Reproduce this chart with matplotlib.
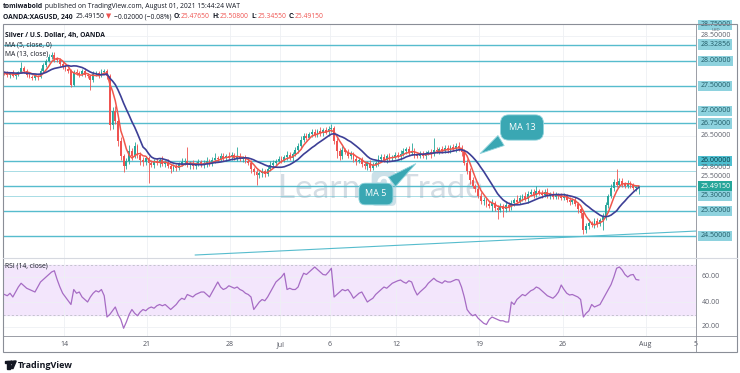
import numpy as np
import pandas as pd
import matplotlib
matplotlib.use("Agg")
import matplotlib.pyplot as plt
from matplotlib.patches import Rectangle, Polygon, Circle

plt.rcParams["font.family"] = ["Open Sans", "DejaVu Sans"]

# ---------------- data ----------------
bars_per_day = 6            # 4h bars, weekends removed
first_bar_day = -3.58       # trading days relative to Mon 14 Jun

# a few bars before the visible window, only used to warm up the MAs
pre_closes = [27.80, 27.74, 27.70, 27.76, 27.82, 27.78, 27.74, 27.80, 27.84,
              27.78, 27.76, 27.80, 27.74, 27.78, 27.72, 27.76]

closes = [27.75, 27.72, 27.76, 27.70, 27.74, 27.78, 27.86, 27.80, 27.72, 27.68,
          27.66, 27.70, 27.68, 27.80, 27.92, 28.00, 28.08, 28.12, 28.04, 28.02,
          27.94, 27.88, 27.84, 27.80, 27.52, 27.78, 27.76, 27.74, 27.80, 27.72,
          27.70, 27.62, 27.74, 27.76, 27.72, 27.78, 27.80, 27.70, 26.72, 27.00,
          26.80, 26.40, 26.10, 25.90, 26.00, 26.20, 26.10, 26.30, 26.12, 26.02,
          25.98, 26.06, 25.96, 25.92, 26.00, 25.96, 26.02, 25.94, 25.98, 25.90,
          25.84, 25.88, 25.86, 25.94, 25.98, 26.00, 25.92, 25.96, 25.90, 25.94,
          25.98, 25.92, 25.96, 26.00, 25.94, 26.02, 26.06, 26.04, 26.10, 26.06,
          26.10, 26.08, 26.12, 26.06, 26.10, 26.04, 26.06, 26.00, 25.96, 25.84,
          25.78, 25.72, 25.76, 25.80, 25.74, 25.84, 25.92, 25.96, 26.00, 26.04,
          26.02, 26.08, 26.12, 26.06, 26.14, 26.22, 26.30, 26.42, 26.50, 26.46,
          26.54, 26.58, 26.52, 26.60, 26.56, 26.62, 26.58, 26.64, 26.66, 26.40,
          26.20, 26.10, 26.22, 26.18, 26.10, 26.14, 26.04, 26.00, 26.02, 25.94,
          25.90, 25.96, 25.86, 25.92, 25.96, 26.04, 26.08, 26.02, 26.10, 26.06,
          26.08, 26.12, 26.10, 26.14, 26.20, 26.24, 26.16, 26.20, 26.12, 26.10,
          26.14, 26.10, 26.16, 26.18, 26.14, 26.22, 26.20, 26.24, 26.20, 26.26,
          26.22, 26.28, 26.24, 26.30, 26.26, 26.18, 25.96, 25.80, 25.62, 25.50,
          25.44, 25.30, 25.20, 25.22, 25.14, 25.10, 25.16, 25.06, 25.02, 25.10,
          25.04, 25.12, 25.08, 25.16, 25.22, 25.18, 25.26, 25.30, 25.24, 25.34,
          25.38, 25.32, 25.40, 25.36, 25.32, 25.38, 25.30, 25.34, 25.28, 25.32,
          25.30, 25.26, 25.30, 25.22, 25.18, 25.22, 25.14, 25.04, 24.96, 24.62,
          24.70, 24.76, 24.72, 24.80, 24.74, 24.82, 24.90, 25.12, 25.30, 25.46,
          25.58, 25.52, 25.60, 25.54, 25.50, 25.56, 25.52, 25.46, 25.4765, 25.4915]

# wick lengths above / below the body, in cents
up_wick = [3, 4, 2, 5, 3, 2, 12, 4, 3, 5,
           4, 3, 2, 5, 4, 3, 6, 5, 6, 4,
           3, 5, 4, 2, 3, 4, 6, 3, 4, 5,
           3, 2, 5, 4, 3, 6, 4, 3, 4, 8,
           10, 5, 8, 4, 6, 12, 5, 8, 4, 6,
           5, 4, 3, 6, 4, 5, 3, 8, 4, 5,
           4, 6, 5, 3, 8, 6, 28, 4, 5, 3,
           6, 4, 5, 8, 3, 6, 10, 4, 5, 6,
           4, 8, 5, 3, 18, 5, 4, 6, 3, 5,
           4, 6, 3, 5, 4, 6, 8, 5, 4, 6,
           5, 4, 8, 6, 4, 5, 6, 8, 5, 6,
           4, 6, 5, 3, 8, 4, 5, 6, 8, 4,
           6, 5, 8, 4, 6, 5, 3, 6, 4, 5,
           4, 3, 6, 5, 4, 8, 6, 5, 3, 6,
           4, 6, 5, 8, 6, 4, 5, 16, 6, 4,
           5, 6, 4, 3, 6, 24, 5, 4, 6, 5,
           6, 4, 5, 6, 8, 5, 6, 8, 5, 6,
           4, 6, 8, 5, 4, 6, 8, 3, 5, 6,
           4, 8, 5, 6, 4, 10, 6, 4, 8, 5,
           6, 5, 10, 4, 6, 5, 8, 4, 6, 5,
           4, 6, 5, 3, 6, 4, 5, 3, 6, 4,
           5, 8, 4, 6, 5, 4, 6, 5, 4, 8,
           6, 26, 5, 6, 4, 5, 3, 4, 5, 1.65]
dn_wick = [4, 3, 5, 2, 6, 4, 3, 5, 4, 3,
           5, 4, 6, 3, 4, 5, 3, 4, 6, 5,
           4, 3, 5, 4, 4, 3, 5, 6, 4, 3,
           5, 20, 4, 3, 5, 4, 3, 6, 10, 8,
           6, 10, 8, 12, 5, 6, 8, 4, 6, 10,
           8, 6, 40, 5, 6, 4, 8, 5, 6, 4,
           8, 5, 6, 4, 5, 6, 4, 8, 5, 6,
           5, 4, 6, 8, 5, 4, 6, 5, 4, 6,
           5, 4, 6, 3, 5, 4, 6, 5, 4, 8,
           6, 20, 5, 8, 6, 4, 5, 6, 4, 5,
           6, 4, 5, 3, 6, 4, 5, 6, 4, 5,
           3, 6, 5, 4, 6, 5, 4, 8, 6, 5,
           14, 8, 6, 5, 4, 6, 5, 8, 4, 6,
           5, 8, 6, 4, 5, 6, 4, 5, 6, 5,
           6, 4, 5, 8, 4, 6, 5, 4, 6, 5,
           4, 5, 6, 4, 8, 5, 4, 6, 5, 4,
           5, 6, 4, 5, 6, 8, 5, 6, 8, 5,
           6, 4, 5, 8, 6, 5, 10, 6, 18, 5,
           16, 6, 8, 5, 6, 4, 5, 6, 4, 8,
           5, 6, 4, 5, 6, 4, 5, 6, 4, 5,
           6, 4, 5, 4, 6, 5, 4, 8, 10, 8,
           6, 5, 4, 6, 5, 4, 20, 8, 6, 5,
           6, 5, 4, 6, 5, 4, 6, 5, 6, 13.1]

# RSI(14, close) per bar
rsi_values = [46, 45, 47, 44, 48, 52, 55, 53, 51, 50,
              49, 48, 52, 56, 58, 60, 62, 64, 65, 58,
              52, 47, 44, 41, 38, 50, 47, 48, 44, 42,
              40, 44, 47, 49, 48, 50, 45, 28, 30, 33,
              36, 30, 26, 19, 24, 30, 34, 31, 29, 32,
              34, 33, 35, 36, 35, 37, 38, 37, 38, 36,
              34, 36, 38, 41, 43, 42, 46, 45, 44, 46,
              47, 48, 48, 46, 44, 48, 52, 56, 52, 50,
              51, 53, 52, 51, 52, 50, 49, 47, 46, 44,
              34, 37, 40, 42, 41, 44, 48, 52, 56, 58,
              60, 63, 50, 51, 50, 50, 52, 58, 63, 62,
              64, 66, 68, 66, 64, 62, 61.6, 64, 67, 44,
              46, 48, 50, 49, 50, 47, 43, 45, 47, 48,
              44, 40, 41.6, 43, 46, 48, 50, 52, 51, 53,
              55, 56, 57, 57.6, 56, 55, 57, 56, 50, 45.6,
              48, 50, 52, 55, 57, 59, 57, 56, 55, 57,
              56, 56, 57, 58, 57.6, 52, 44, 34, 31, 29,
              30, 27, 25, 23, 22, 26, 28, 27, 26, 25,
              25, 24, 24, 40, 38, 42, 44, 46, 45, 47,
              49, 50, 52, 51, 49, 47, 45, 44, 43, 45,
              48, 53.6, 50, 47, 45.6, 46, 45, 44, 42, 28,
              31, 33, 38, 36, 37, 38, 42, 46, 50, 54,
              60, 67, 68, 65.6, 62, 60, 61.6, 62, 58, 57.6]

level_lines = [28.32856, 28.0, 27.5, 27.0, 26.75, 26.0, 25.5, 25.0, 24.5]
light_lines = [25.80005, 25.3]
trend_days = [7.9, 38.1]
trend_prices = [24.12, 24.60]

tick_days = [0, 5, 10, 13, 16, 20, 25, 30, 35, 38]
tick_labels = ["14", "21", "28", "Jul", "6", "12", "19", "26", "Aug", "5"]

axis_prices = [28.75, 28.5, 28.32856, 28.0, 27.5, 27.0, 26.75, 26.5, 26.0,
               25.80005, 25.5, 25.4915, 25.3, 25.0, 24.5]
axis_kinds = ["box", "plain", "box", "box", "box", "box", "box", "plain", "strong",
              "plain", "plain", "last", "box", "box", "box"]
rsi_ticks = [60, 40, 20]

# ---------------- derived series ----------------
allc = pd.Series(pre_closes + closes, dtype=float)
npre = len(pre_closes)
ma5 = allc.rolling(5).mean().values[npre:]
ma13 = allc.rolling(13).mean().values[npre:]

c = np.array(closes)
o = allc.shift(1).values[npre:]
hi = np.maximum(o, c) + np.array(up_wick) / 100
lo = np.minimum(o, c) - np.array(dn_wick) / 100
x = first_bar_day + np.arange(len(c)) / bars_per_day

# ---------------- figure ----------------
W, H = 740.0, 373.0
DARK = "#131722"
GRID = "#eef0f4"
TEAL = "#56bccd"
UP, DOWN = "#26a69a", "#ef5350"
FS = 4.9


def frac(x0, y0, x1, y1):
    return [x0 / W, 1 - y1 / H, (x1 - x0) / W, (y1 - y0) / H]


fig = plt.figure(figsize=(7.4, 3.73), dpi=100, facecolor="white")
ax = fig.add_axes(frac(3, 24, 696, 258))
rx = fig.add_axes(frac(3, 258, 696, 336), sharex=ax)
ov = fig.add_axes([0, 0, 1, 1], zorder=10)
ov.set_xlim(0, W)
ov.set_ylim(H, 0)
ov.axis("off")

ax.set_xlim(-3.67, 38.03)
ax.set_ylim(28 - (258 - 61) / 50, 28 + (61 - 24) / 50)
rx.set_ylim(60 - (336 - 277) / 1.25, 60 + (277 - 258) / 1.25)

for a in (ax, rx):
    for s in a.spines.values():
        s.set_visible(False)
    a.tick_params(length=0, labelleft=False)
    a.grid(True, color=GRID, linewidth=0.6)
    a.set_axisbelow(True)

ax.set_yticks(np.arange(24.5, 28.75, 0.5))
rx.set_yticks(rsi_ticks)
rx.set_xticks(tick_days)
rx.set_xticklabels(tick_labels, fontsize=5, color="#50535e")
rx.tick_params(axis="x", pad=3.5)
ax.tick_params(labelbottom=False)

# level lines
for p in level_lines:
    ax.axhline(p, color=TEAL, linewidth=1.0, zorder=1)
for p in light_lines:
    ax.axhline(p, color=TEAL, linewidth=0.6, alpha=0.6, zorder=1)
ax.plot(trend_days, trend_prices, color=TEAL, linewidth=0.8, zorder=1)

# watermark
ax.text(0.397, 0.255, "Learn", transform=ax.transAxes, fontsize=24,
        color="#c8d2db", alpha=0.75, family="Lato", zorder=0.5)
ax.text(0.538, 0.262, "2", transform=ax.transAxes, fontsize=20, color="white",
        family="Lato", fontweight="bold", zorder=0.5,
        bbox=dict(boxstyle="round,pad=0.15", fc="#b7d3df", ec="none", alpha=0.7))
ax.text(0.571, 0.255, "Trade", transform=ax.transAxes, fontsize=24,
        color="#c8d2db", alpha=0.75, family="Lato", zorder=0.5)

# candles
col = np.where(c >= o, UP, DOWN)
ax.vlines(x, lo, hi, colors=col, linewidth=0.6, zorder=2)
ax.bar(x, c - o, bottom=o, width=0.11, color=col, linewidth=0, zorder=3)

ax.plot(x, ma5, color="#f0564b", linewidth=1.1, zorder=4)
ax.plot(x, ma13, color="#3d3f96", linewidth=1.2, zorder=4)

# callouts
ax.annotate("MA 13", xy=(24.9, 26.12), xytext=(27.56, 26.67),
            fontsize=6.5, color="white", ha="center", va="center", zorder=6,
            bbox=dict(boxstyle="round,pad=0.9", fc="#3aa7b3", ec="#8fd3dc", lw=0.6),
            arrowprops=dict(arrowstyle="wedge,tail_width=1.3,shrink_factor=0.5",
                            fc="#3aa7b3", ec="#8fd3dc", lw=0.6))
ax.annotate("MA 5", xy=(21.3, 25.98), xytext=(18.77, 25.34),
            fontsize=6.5, color="white", ha="center", va="center", zorder=6,
            bbox=dict(boxstyle="round,pad=0.7", fc="#3aa7b3", ec="#8fd3dc", lw=0.6),
            arrowprops=dict(arrowstyle="wedge,tail_width=1.3,shrink_factor=0.5",
                            fc="#3aa7b3", ec="#8fd3dc", lw=0.6))

# right price scale labels
styles = {
    "box": dict(fc="#8ed2de", tc="#1f5a66"),
    "strong": dict(fc="#4fbfd0", tc="#0d3a44"),
    "plain": dict(fc=None, tc="#5d606b"),
    "last": dict(fc="#26a69a", tc="white"),
}
nudge = {28.75: -1.5, 25.80005: 3, 25.5: 9}
for p, k in zip(axis_prices, axis_kinds):
    st = styles[k]
    bb = None
    if st["fc"]:
        bb = dict(boxstyle="square,pad=0.25", fc=st["fc"], ec="none")
    ax.annotate(f"{p:.5f}", xy=(1, p), xycoords=ax.get_yaxis_transform(),
                xytext=(3, nudge.get(p, 0) * 0.72), textcoords="offset points",
                fontsize=5, color=st["tc"], va="center", ha="left",
                annotation_clip=False, bbox=bb)
ax.annotate("USD", xy=(1, 28.5), xycoords=ax.get_yaxis_transform(),
            xytext=(11, 4.3), textcoords="offset points", fontsize=3.2,
            color="#5d606b", va="center", annotation_clip=False)

# RSI pane
rx.axhspan(30, 70, color="#f3e6fc", zorder=0)
for v in (70, 30):
    rx.axhline(v, color="#b2b5be", linewidth=0.5, linestyle=(0, (3, 3)), zorder=1)
rx.plot(x, rsi_values, color="#a66cc4", linewidth=0.9, zorder=3)
for v in rsi_ticks:
    rx.annotate(f"{v:.2f}", xy=(1, v), xycoords=rx.get_yaxis_transform(),
                xytext=(4, 0), textcoords="offset points", fontsize=5,
                color="#5d606b", va="center", annotation_clip=False)

# frame
FR = "#8a8e97"
ov.add_patch(Rectangle((3, 24), 734, 328, fill=False, ec=FR, lw=0.8))
ov.plot([696, 696], [24, 352], color=FR, lw=0.6)
ov.plot([3, 737], [258, 258], color="#d6d9e0", lw=0.8)
ov.plot([3, 737], [336, 336], color=FR, lw=0.6)

# legends inside panes
ov.text(5, 35, "Silver / U.S. Dollar, 4h, OANDA", fontsize=FS, fontweight="bold",
        color=DARK, va="center")
ov.text(5, 44.5, "MA (5, close, 0)", fontsize=FS, color=DARK, va="center")
ov.text(5, 54, "MA (13, close)", fontsize=FS, color=DARK, va="center")
ov.text(5, 266, "RSI (14, close)", fontsize=FS, color=DARK, va="center")

# header
t = ov.text(3, 6, "tomiwabold", fontsize=FS, fontweight="bold", color=DARK,
            va="center")
ov.annotate(" published on TradingView.com, August 01, 2021 15:44:24 WAT",
            xy=(1, 0), xycoords=t, va="bottom", fontsize=FS, color=DARK)

pieces = [("OANDA:XAGUSD, 240", "bold", DARK, 0),
          ("25.49150", "normal", DARK, 2),
          ("\u25bc", "normal", DOWN, 1.5),
          ("\u22120.02000 (\u22120.08%)", "normal", DARK, 1.5),
          ("O:", "bold", DARK, 2),
          ("25.47650", "normal", DOWN, 0),
          ("H:", "bold", DARK, 2),
          ("25.50800", "normal", DOWN, 0),
          ("L:", "bold", DARK, 2),
          ("25.34550", "normal", DOWN, 0),
          ("C:", "bold", DARK, 2),
          ("25.49150", "normal", DOWN, 0)]
prev = None
for txt, wt, cl, gap in pieces:
    if prev is None:
        prev = ov.text(3, 17, txt, fontsize=FS, fontweight=wt, color=cl,
                       va="center")
    else:
        prev = ov.annotate(txt, xy=(1, 0), xycoords=prev, xytext=(gap, 0),
                           textcoords="offset points", va="bottom",
                           fontsize=FS, fontweight=wt, color=cl)

# TradingView logo
ov.add_patch(Rectangle((4.5, 361), 5, 2.2, color=DARK))
ov.add_patch(Rectangle((7.3, 361), 2.2, 7.5, color=DARK))
ov.add_patch(Circle((11.6, 362.2), 1.2, color=DARK))
ov.add_patch(Polygon([[13.8, 361], [16.2, 361], [13.0, 368.5], [10.6, 368.5]],
                     closed=True, color=DARK))
ov.text(18, 365, "TradingView", fontsize=6.5, fontweight="bold", color=DARK,
        va="center")

fig.savefig("out.png", dpi=100, facecolor="white")
